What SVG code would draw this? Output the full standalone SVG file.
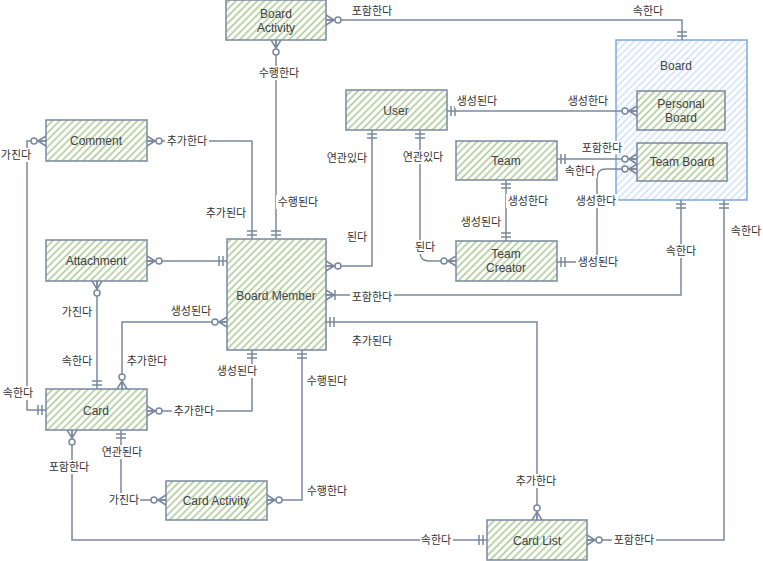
<svg xmlns="http://www.w3.org/2000/svg" width="763" height="561" viewBox="0 0 763 561">
<style>
.n rect{fill:url(#hg);stroke:#7a889f;stroke-width:1.5}
.n text{font-family:"Liberation Sans",Arial,sans-serif;font-size:12px;fill:#444;text-anchor:middle}
.bd rect{fill:url(#hb);stroke:#7ea6e0;stroke-width:1.5}
#conns path{fill:none;stroke:#7a889f;stroke-width:1.5}
.l rect{fill:#fff}
.l text{font-family:"Noto Sans CJK KR","Noto Sans",sans-serif;font-size:11px;fill:#333;text-anchor:middle}
.mk{fill:none;stroke:#7a889f;stroke-width:1.5}
</style>
<defs>
<pattern id="hg" width="5" height="5" patternUnits="userSpaceOnUse" patternTransform="rotate(45)">
<rect width="5" height="5" fill="#fff"/><line x1="2.5" y1="0" x2="2.5" y2="5" stroke="#a6c68e" stroke-width="1.5"/>
</pattern>
<pattern id="hb" width="5" height="5" patternUnits="userSpaceOnUse" patternTransform="rotate(45)">
<rect width="5" height="5" fill="#fff"/><line x1="2.5" y1="0" x2="2.5" y2="5" stroke="#cddff7" stroke-width="1.5"/>
</pattern>
<marker id="one" markerUnits="userSpaceOnUse" viewBox="0 -7 20 14" markerWidth="20" markerHeight="14" refX="20" refY="0" orient="auto-start-reverse" overflow="visible">
<path class="mk" d="M12,-5V5M16,-5V5"/>
</marker>
<marker id="zm" markerUnits="userSpaceOnUse" viewBox="0 -7 20 14" markerWidth="20" markerHeight="14" refX="20" refY="0" orient="auto-start-reverse" overflow="visible">
<path class="mk" d="M12,0L20,-5M12,0L20,0M12,0L20,5"/><circle cx="8" cy="0" r="3" fill="#fff" stroke="#7a889f" stroke-width="1.5"/>
</marker>
<marker id="om" markerUnits="userSpaceOnUse" viewBox="0 -7 20 14" markerWidth="20" markerHeight="14" refX="20" refY="0" orient="auto-start-reverse" overflow="visible">
<path class="mk" d="M12,0L20,-5M12,0L20,0M12,0L20,5M11,-5V5"/>
</marker>
</defs>

<g id="board" class="bd"><rect x="616" y="40" width="131" height="160"/><text x="676" y="70" style="font-family:'Liberation Sans',Arial,sans-serif;font-size:12px;fill:#444;text-anchor:middle">Board</text></g>

<g id="conns">
<path d="M276,40V239" marker-start="url(#zm)" marker-end="url(#one)"/>
<path d="M326,20H682V40" marker-start="url(#zm)" marker-end="url(#one)"/>
<path d="M147,141H252V239" marker-start="url(#zm)" marker-end="url(#one)"/>
<path d="M147,261H227" marker-start="url(#zm)" marker-end="url(#one)"/>
<path d="M46,141H27V410H46" marker-start="url(#zm)" marker-end="url(#one)"/>
<path d="M97,281V389" marker-start="url(#zm)" marker-end="url(#one)"/>
<path d="M227,322H122V389" marker-start="url(#zm)" marker-end="url(#zm)"/>
<path d="M147,411H252V350" marker-start="url(#zm)" marker-end="url(#one)"/>
<path d="M267,500H302V350" marker-start="url(#zm)" marker-end="url(#one)"/>
<path d="M121,430V500H166" marker-start="url(#one)" marker-end="url(#zm)"/>
<path d="M72,430V540H487" marker-start="url(#zm)" marker-end="url(#one)"/>
<path d="M372,130V266H326" marker-start="url(#one)" marker-end="url(#zm)"/>
<path d="M420,130V252Q420,261 429,261H456" marker-start="url(#one)" marker-end="url(#zm)"/>
<path d="M447,111H637" marker-start="url(#one)" marker-end="url(#zm)"/>
<path d="M557,159H637" marker-start="url(#one)" marker-end="url(#zm)"/>
<path d="M506,180V241" marker-start="url(#one)" marker-end="url(#one)"/>
<path d="M557,262H597V178Q597,169 606,169H637" marker-start="url(#one)" marker-end="url(#zm)"/>
<path d="M681,200V295H326" marker-start="url(#one)" marker-end="url(#om)"/>
<path d="M724,200V540H587" marker-start="url(#one)" marker-end="url(#zm)"/>
<path d="M326,322H537V520" marker-start="url(#one)" marker-end="url(#zm)"/>
</g>

<g id="labels">
<g class="l"><rect x="350" y="4" width="44" height="14"/><text x="372" y="15">포함한다</text></g>
<g class="l"><rect x="632" y="4" width="33" height="14"/><text x="648" y="15">속한다</text></g>
<g class="l"><rect x="257" y="66" width="44" height="14"/><text x="279" y="77">수행한다</text></g>
<g class="l"><rect x="276" y="195" width="44" height="14"/><text x="298" y="206">수행된다</text></g>
<g class="l"><rect x="204" y="206" width="44" height="14"/><text x="226" y="217">추가된다</text></g>
<g class="l"><rect x="165" y="134" width="44" height="14"/><text x="187" y="145">추가한다</text></g>
<g class="l"><rect x="0" y="148" width="33" height="14"/><text x="16" y="159">가진다</text></g>
<g class="l"><rect x="325" y="151" width="44" height="14"/><text x="347" y="162">연관있다</text></g>
<g class="l"><rect x="401" y="150" width="44" height="14"/><text x="423" y="161">연관있다</text></g>
<g class="l"><rect x="346" y="230" width="22" height="14"/><text x="357" y="241">된다</text></g>
<g class="l"><rect x="414" y="240" width="22" height="14"/><text x="425" y="251">된다</text></g>
<g class="l"><rect x="455" y="94" width="44" height="14"/><text x="477" y="105">생성된다</text></g>
<g class="l"><rect x="566" y="94" width="44" height="14"/><text x="588" y="105">생성한다</text></g>
<g class="l"><rect x="580" y="141" width="44" height="13"/><text x="602" y="152">포함한다</text></g>
<g class="l"><rect x="564" y="164" width="33" height="14"/><text x="580" y="175">속한다</text></g>
<g class="l"><rect x="506" y="194" width="44" height="14"/><text x="528" y="205">생성한다</text></g>
<g class="l"><rect x="459" y="215" width="44" height="14"/><text x="481" y="226">생성된다</text></g>
<g class="l"><rect x="574" y="194" width="44" height="14"/><text x="596" y="205">생성한다</text></g>
<g class="l"><rect x="576" y="255" width="44" height="14"/><text x="598" y="266">생성된다</text></g>
<g class="l"><rect x="665" y="244" width="33" height="14"/><text x="681" y="255">속한다</text></g>
<g class="l"><rect x="730" y="224" width="33" height="14"/><text x="746" y="235">속한다</text></g>
<g class="l"><rect x="61" y="305" width="33" height="14"/><text x="77" y="316">가진다</text></g>
<g class="l"><rect x="61" y="354" width="33" height="14"/><text x="77" y="365">속한다</text></g>
<g class="l"><rect x="169" y="304" width="44" height="14"/><text x="191" y="315">생성된다</text></g>
<g class="l"><rect x="125" y="354" width="44" height="14"/><text x="147" y="365">추가한다</text></g>
<g class="l"><rect x="2" y="386" width="33" height="14"/><text x="18" y="397">속한다</text></g>
<g class="l"><rect x="172" y="404" width="44" height="14"/><text x="194" y="415">추가한다</text></g>
<g class="l"><rect x="215" y="364" width="44" height="14"/><text x="237" y="375">생성된다</text></g>
<g class="l"><rect x="305" y="374" width="44" height="14"/><text x="327" y="385">수행된다</text></g>
<g class="l"><rect x="350" y="290" width="44" height="14"/><text x="372" y="301">포함한다</text></g>
<g class="l"><rect x="350" y="334" width="44" height="14"/><text x="372" y="345">추가된다</text></g>
<g class="l"><rect x="100" y="445" width="44" height="14"/><text x="122" y="456">연관된다</text></g>
<g class="l"><rect x="47" y="460" width="44" height="14"/><text x="69" y="471">포함한다</text></g>
<g class="l"><rect x="107" y="493" width="33" height="14"/><text x="124" y="504">가진다</text></g>
<g class="l"><rect x="305" y="484" width="44" height="14"/><text x="327" y="495">수행한다</text></g>
<g class="l"><rect x="514" y="474" width="44" height="14"/><text x="536" y="485">추가한다</text></g>
<g class="l"><rect x="420" y="533" width="33" height="14"/><text x="436" y="544">속한다</text></g>
<g class="l"><rect x="612" y="533" width="44" height="14"/><text x="634" y="544">포함한다</text></g>
</g>

<g id="board-activity" class="n"><rect x="226" y="0" width="100" height="40"/><text x="276" y="18">Board</text><text x="276" y="32">Activity</text></g>
<g id="personal-board" class="n"><rect x="637" y="91" width="88" height="39"/><text x="681" y="108">Personal</text><text x="681" y="122">Board</text></g>
<g id="team-board" class="n"><rect x="637" y="143" width="90" height="38"/><text x="682" y="166">Team Board</text></g>
<g id="user" class="n"><rect x="346" y="90" width="101" height="40"/><text x="396" y="115">User</text></g>
<g id="team" class="n"><rect x="456" y="141" width="101" height="39"/><text x="506" y="165">Team</text></g>
<g id="team-creator" class="n"><rect x="456" y="241" width="101" height="40"/><text x="506" y="258">Team</text><text x="506" y="272">Creator</text></g>
<g id="comment" class="n"><rect x="46" y="120" width="101" height="41"/><text x="96" y="145">Comment</text></g>
<g id="attachment" class="n"><rect x="46" y="240" width="101" height="41"/><text x="96" y="265">Attachment</text></g>
<g id="board-member" class="n"><rect x="227" y="239" width="99" height="111"/><text x="276" y="300">Board Member</text></g>
<g id="card" class="n"><rect x="46" y="389" width="101" height="41"/><text x="96" y="415">Card</text></g>
<g id="card-activity" class="n"><rect x="166" y="481" width="101" height="39"/><text x="216" y="505">Card Activity</text></g>
<g id="card-list" class="n"><rect x="487" y="520" width="100" height="40"/><text x="537" y="545">Card List</text></g>
</svg>
